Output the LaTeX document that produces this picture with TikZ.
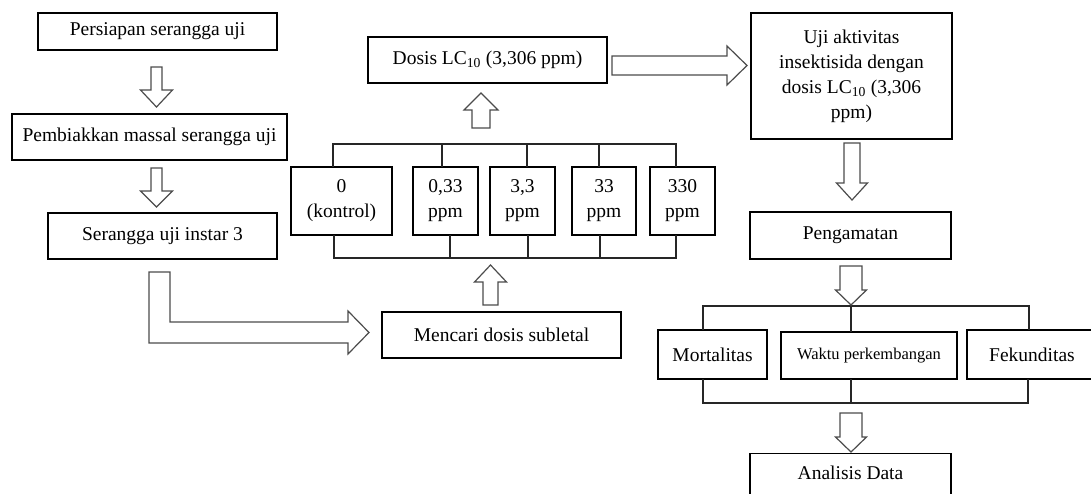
\documentclass[tikz,border=0pt]{standalone}
\usepackage{fontspec}
\setmainfont{Liberation Serif}
\usetikzlibrary{positioning, arrows.meta}

\tikzset{
  box/.style={draw, line width=1.3pt, inner sep=0pt, align=center, font=\fontsize{19.5}{25}\selectfont},
  blockarrow/.style={draw=black!70, line width=1.2pt, fill=white, line join=miter},
  bus/.style={draw=black!85, line width=1.3pt, line cap=rect}
}

\begin{document}
\begin{tikzpicture}[x=1pt, y=-1pt]
    \useasboundingbox (0,0) rectangle (1091,493);
    \node[box, minimum width=239, minimum height=37] (persiapan) at (157.5,31.5) {Persiapan serangga uji};
    \node[box, minimum width=275, minimum height=46] (pembiakkan) at (149.5,137) {Pembiakkan massal serangga uji};
    \node[box, minimum width=229, minimum height=46] (serangga) at (162.5,236) {Serangga uji instar 3};
    \node[box, minimum width=239, minimum height=46] (dosis) at (487.5,60) {Dosis LC\textsubscript{10} (3,306 ppm)};
    \node[box, minimum width=239, minimum height=46] (mencari) at (501.5,335) {Mencari dosis subletal};
    \foreach \n/\x/\w/\a/\b in {d0/341.5/101/0/(kontrol), d1/445.5/65/{0,33}/ppm, d2/522.5/65/{3,3}/ppm, d3/604/64/33/ppm, d4/682.5/65/330/ppm} {
        \node[box, minimum width=\w, minimum height=68] (\n) at (\x,201) {\a\\\b};
    }
    \node[box, minimum width=201, minimum height=126] (uji) at (851.5,76) {Uji aktivitas\\insektisida dengan\\dosis LC\textsubscript{10} (3,306\\ppm)};
    \node[box, minimum width=201, minimum height=47] (pengamatan) at (850.5,235.5) {Pengamatan};
    \node[box, minimum width=109, minimum height=49] (mortalitas) at (712.5,354.5) {Mortalitas};
    \node[box, minimum width=176, minimum height=47, font=\fontsize{16.5}{20}\selectfont] (waktu) at (869,355.5) {Waktu perkembangan};
    \node[box, minimum width=130, minimum height=49] (fekunditas) at (1032,354.5) {Fekunditas};
    \node[box, minimum width=201, text height=26, text depth=30, anchor=north] (analisis) at (850.5,453) {Analisis Data};

    \draw[bus] (333,144) -- (676,144);
    \draw[bus] (334,258) -- (676,258);
    \foreach \n/\x/\u in {d0/333/334, d1/442/450, d2/527/528, d3/599/600, d4/676/676} {
        \coordinate (up) at (\x,144);
        \coordinate (lo) at (\u,258);
        \draw[bus] (up) -- (up |- \n.north);
        \draw[bus] (lo) -- (lo |- \n.south);
    }
    \draw[bus] (703,306) -- (1029,306);
    \draw[bus] (703,403) -- (1028,403);
    \foreach \n/\x/\u in {mortalitas/703/703, waktu/851/851, fekunditas/1029/1028} {
        \coordinate (up) at (\x,306);
        \coordinate (lo) at (\u,403);
        \draw[bus] (up) -- (up |- \n.north);
        \draw[bus] (lo) -- (lo |- \n.south);
    }

    \foreach \x/\ya/\yb/\yc/\s/\h in {156.5/67/90/107/5.5/16, 156.5/168/191/207/5.5/16, 852/143/183/200/8/15.5, 851/266/290/305/11/15.5, 851/413/437/452/11/15.5, 481/128/110/93/9/17, 490.5/305/282/265/7.5/16} {
        \draw[blockarrow] (\x-\s,\ya) -- (\x-\s,\yb) -- (\x-\h,\yb) -- (\x,\yc) -- (\x+\h,\yb) -- (\x+\s,\yb) -- (\x+\s,\ya) -- cycle;
    }
    \draw[blockarrow] (612,56) -- (727,56) -- (727,46) -- (747,65.5) -- (727,85) -- (727,75) -- (612,75) -- cycle;
    \draw[blockarrow] (149,272) -- (170,272) -- (170,322) -- (348,322) -- (348,311) -- (369,332.5) -- (348,354) -- (348,343) -- (149,343) -- cycle;
\end{tikzpicture}
\end{document}
